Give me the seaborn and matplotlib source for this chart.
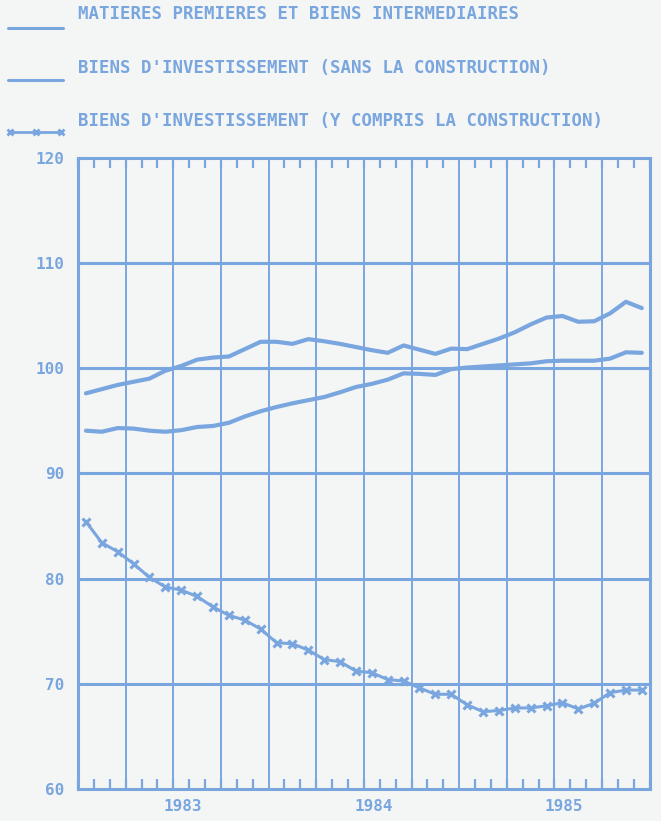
import numpy as np
import matplotlib
matplotlib.use("Agg")
import matplotlib.pyplot as plt
from matplotlib.lines import Line2D
import seaborn as sb

# monthly index values, Jan 1983 - Dec 1985
months = np.arange(1, 37)
years = ["1983", "1984", "1985"]

matieres = [97.6, 98.0, 98.4, 98.7, 99.0, 99.75, 100.2, 100.8, 101.0, 101.1, 101.8, 102.5,
            102.5, 102.3, 102.75, 102.55, 102.3, 102.0, 101.7, 101.45, 102.15, 101.75, 101.35, 101.85,
            101.8, 102.3, 102.8, 103.4, 104.15, 104.8, 104.95, 104.4, 104.45, 105.2, 106.3, 105.7]

sans_constr = [94.05, 93.95, 94.3, 94.25, 94.05, 93.95, 94.1, 94.4, 94.5, 94.8, 95.4, 95.9,
               96.3, 96.65, 96.95, 97.25, 97.7, 98.2, 98.5, 98.9, 99.5, 99.45, 99.35, 99.9,
               100.05, 100.15, 100.25, 100.35, 100.45, 100.65, 100.7, 100.7, 100.7, 100.9, 101.5, 101.45]

avec_constr = [85.4, 83.4, 82.55, 81.4, 80.1, 79.2, 78.9, 78.3, 77.3, 76.5, 76.05, 75.2,
               73.9, 73.8, 73.2, 72.3, 72.1, 71.2, 71.05, 70.4, 70.26, 69.6, 69.0, 69.0,
               68.0, 67.35, 67.45, 67.7, 67.7, 67.9, 68.2, 67.6, 68.15, 69.15, 69.4, 69.4]

labels = ["MATIERES PREMIERES ET BIENS INTERMEDIAIRES",
          "BIENS D'INVESTISSEMENT (SANS LA CONSTRUCTION)",
          "BIENS D'INVESTISSEMENT (Y COMPRIS LA CONSTRUCTION)"]

blue = "#79a6df"
bg = "#f4f5f5"

sb.set_theme(style="white")
plt.rcParams['font.family'] = ['DejaVu Sans Mono']
plt.rcParams['font.weight'] = 'bold'

fig = plt.figure(figsize=(6.61, 8.21), dpi=100, facecolor=bg)
ax = fig.add_axes([0.118, 0.039, 0.865, 0.769])
ax.set_facecolor(bg)

sb.lineplot(x=months, y=matieres, ax=ax, color=blue, lw=3)
sb.lineplot(x=months, y=sans_constr, ax=ax, color=blue, lw=3)
sb.lineplot(x=months, y=avec_constr, ax=ax, color=blue, lw=2.2, marker="x",
            markersize=5.5, markeredgewidth=2.2, markeredgecolor=blue)

ax.set_xlim(0.5, 36.5)
ax.set_ylim(60, 120)

# grid: quarters vertical, 10-point steps horizontal
for q in np.arange(0.5, 37, 3):
    ax.axvline(q, color=blue, lw=1.4, zorder=0)
for v in range(70, 120, 10):
    ax.axhline(v, color=blue, lw=2.2, zorder=0)

for s in ax.spines.values():
    s.set_color(blue)
    s.set_linewidth(2.2)

ax.set_yticks(range(60, 121, 10))
ax.tick_params(axis="y", length=0, pad=10, labelsize=11.5, labelcolor=blue)

ax.set_xticks([12.5, 24.5])
ax.set_xticklabels([])
ax.tick_params(axis="x", which="major", direction="out", length=8, width=1.6, color=blue)
ax.set_xticks(np.arange(0.5, 37, 1), minor=True)
ax.tick_params(axis="x", which="minor", direction="in", length=7, width=1.6, color=blue,
               top=True, bottom=True)

for i, yr in enumerate(years):
    ax.text(12 * i + 7.1, -0.027, yr, transform=ax.get_xaxis_transform(),
            ha="center", va="center", fontsize=11.5, color=blue)

# legend drawn above the frame
leg_y = [(0.983, 0.966), (0.917, 0.9026), (0.853, 0.839)]
for k, (ty, ly) in enumerate(leg_y):
    fig.text(0.118, ty, labels[k], ha="left", va="center", fontsize=12.5, color=blue)
    if k < 2:
        fig.add_artist(Line2D([0.012, 0.095], [ly, ly], color=blue, lw=2.2))
    else:
        fig.add_artist(Line2D([0.015, 0.055, 0.093], [ly] * 3, color=blue, lw=2,
                              marker="x", markersize=5, markeredgewidth=2))

fig.savefig("out.png", dpi=100, facecolor=bg)
